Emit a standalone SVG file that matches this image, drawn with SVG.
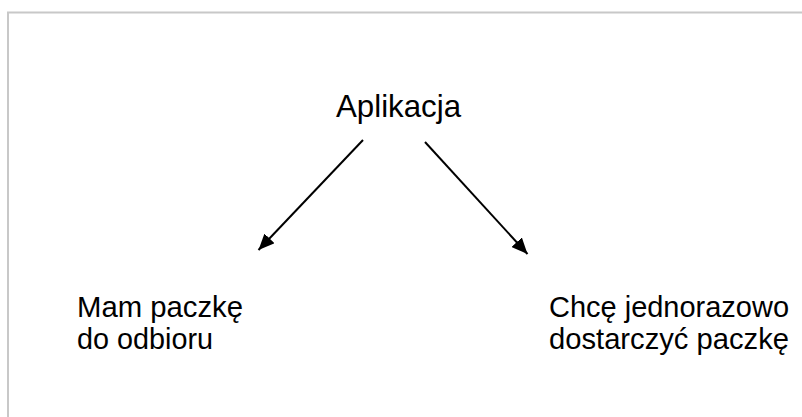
<svg xmlns="http://www.w3.org/2000/svg" width="802" height="417" viewBox="0 0 802 417">
<style>
.t{font-family:"Liberation Sans",Arial,sans-serif;fill:#000}
.c{stroke:#000;stroke-width:2;fill:none}
</style>
<defs>
<marker id="ah" markerUnits="userSpaceOnUse" markerWidth="16" markerHeight="14" refX="16" refY="7" orient="auto">
<path d="M0,0 L16,7 L0,14 Z" fill="#000"/>
</marker>
</defs>
<rect width="802" height="417" fill="#fff"/>
<path d="M8,417 V12.5 H802" fill="none" stroke="#c8c8c8" stroke-width="2"/>
<g id="n-aplikacja"><text class="t" x="336" y="117" font-size="32" textLength="125" lengthAdjust="spacingAndGlyphs">Aplikacja</text></g>
<g id="n-odbior">
<text class="t" x="77" y="316.5" font-size="30" textLength="166" lengthAdjust="spacingAndGlyphs">Mam paczkę</text>
<text class="t" x="77" y="348.5" font-size="30" textLength="136" lengthAdjust="spacingAndGlyphs">do odbioru</text>
</g>
<g id="n-dostarcz">
<text class="t" x="549" y="316.5" font-size="30" textLength="240" lengthAdjust="spacingAndGlyphs">Chcę jednorazowo</text>
<text class="t" x="549" y="348.5" font-size="30" textLength="240" lengthAdjust="spacingAndGlyphs">dostarczyć paczkę</text>
</g>
<g id="connectors">
<line class="c" x1="363" y1="140" x2="258.5" y2="250" marker-end="url(#ah)"/>
<line class="c" x1="425" y1="142" x2="527.5" y2="254" marker-end="url(#ah)"/>
</g>
</svg>
